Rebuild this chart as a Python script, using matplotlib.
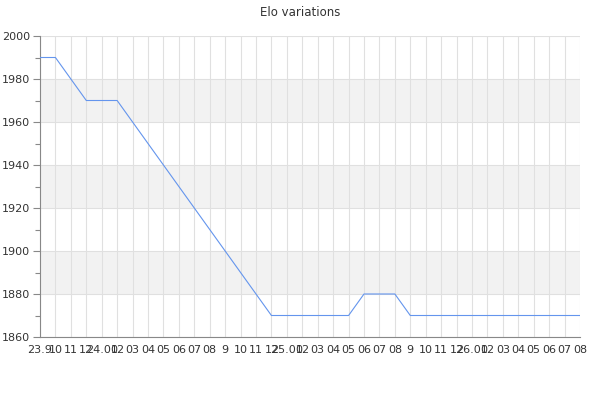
import matplotlib
matplotlib.use('Agg')
import matplotlib.pyplot as plt

# month labels, Sep 2023 -> Aug 2026
month_labels = ['23.9', '10', '11', '12',
                '24.01', '02', '03', '04', '05', '06', '07', '08', '9', '10', '11', '12',
                '25.01', '02', '03', '04', '05', '06', '07', '08', '9', '10', '11', '12',
                '26.01', '02', '03', '04', '05', '06', '07', '08']

# elo value at each month
elo = [1990, 1990, 1980, 1970, 1970, 1970, 1960, 1950, 1940, 1930, 1920, 1910,
       1900, 1890, 1880, 1870, 1870, 1870, 1870, 1870, 1870, 1880, 1880, 1880,
       1870, 1870, 1870, 1870, 1870, 1870, 1870, 1870, 1870, 1870, 1870, 1870]

y_major = [1860, 1880, 1900, 1920, 1940, 1960, 1980, 2000]
y_minor = [1870, 1890, 1910, 1930, 1950, 1970, 1990]
bands = [(1880, 1900), (1920, 1940), (1960, 1980)]

fig = plt.figure(figsize=(6, 4), dpi=100)
ax = fig.add_axes([40 / 600, 63 / 400, 540 / 600, 301 / 400])

x = list(range(len(elo)))

for lo, hi in bands:
    ax.axhspan(lo, hi, color='#f2f2f2', zorder=0, lw=0)

for xi in x:
    ax.axvline(xi, color='#e0e0e0', lw=0.8, zorder=1)
for yv in y_major:
    ax.axhline(yv, color='#e0e0e0', lw=0.8, zorder=1)

ax.plot(x, elo, color='#6495ed', lw=0.8, zorder=3)

ax.set_xlim(0, len(elo) - 1)
ax.set_ylim(1860, 2000)
ax.set_xticks(x)
ax.set_xticklabels(month_labels, fontsize=8, color='#333333')
ax.set_yticks(y_major)
ax.set_yticks(y_minor, minor=True)
ax.tick_params(axis='y', which='major', length=5, width=0.8, color='#888888',
               labelsize=8, labelcolor='#333333', pad=2)
ax.tick_params(axis='y', which='minor', length=3.5, width=0.8, color='#888888')
ax.tick_params(axis='x', length=0, pad=6)

for s in ['top', 'right']:
    ax.spines[s].set_visible(False)
ax.spines['left'].set_color('#888888')
ax.spines['bottom'].set_color('#888888')
ax.spines['left'].set_linewidth(0.8)
ax.spines['bottom'].set_linewidth(0.8)

fig.text(0.5, 0.97, 'Elo variations', ha='center', va='center', fontsize=8.5, color='#333333')

fig.savefig('out.png', dpi=100)
